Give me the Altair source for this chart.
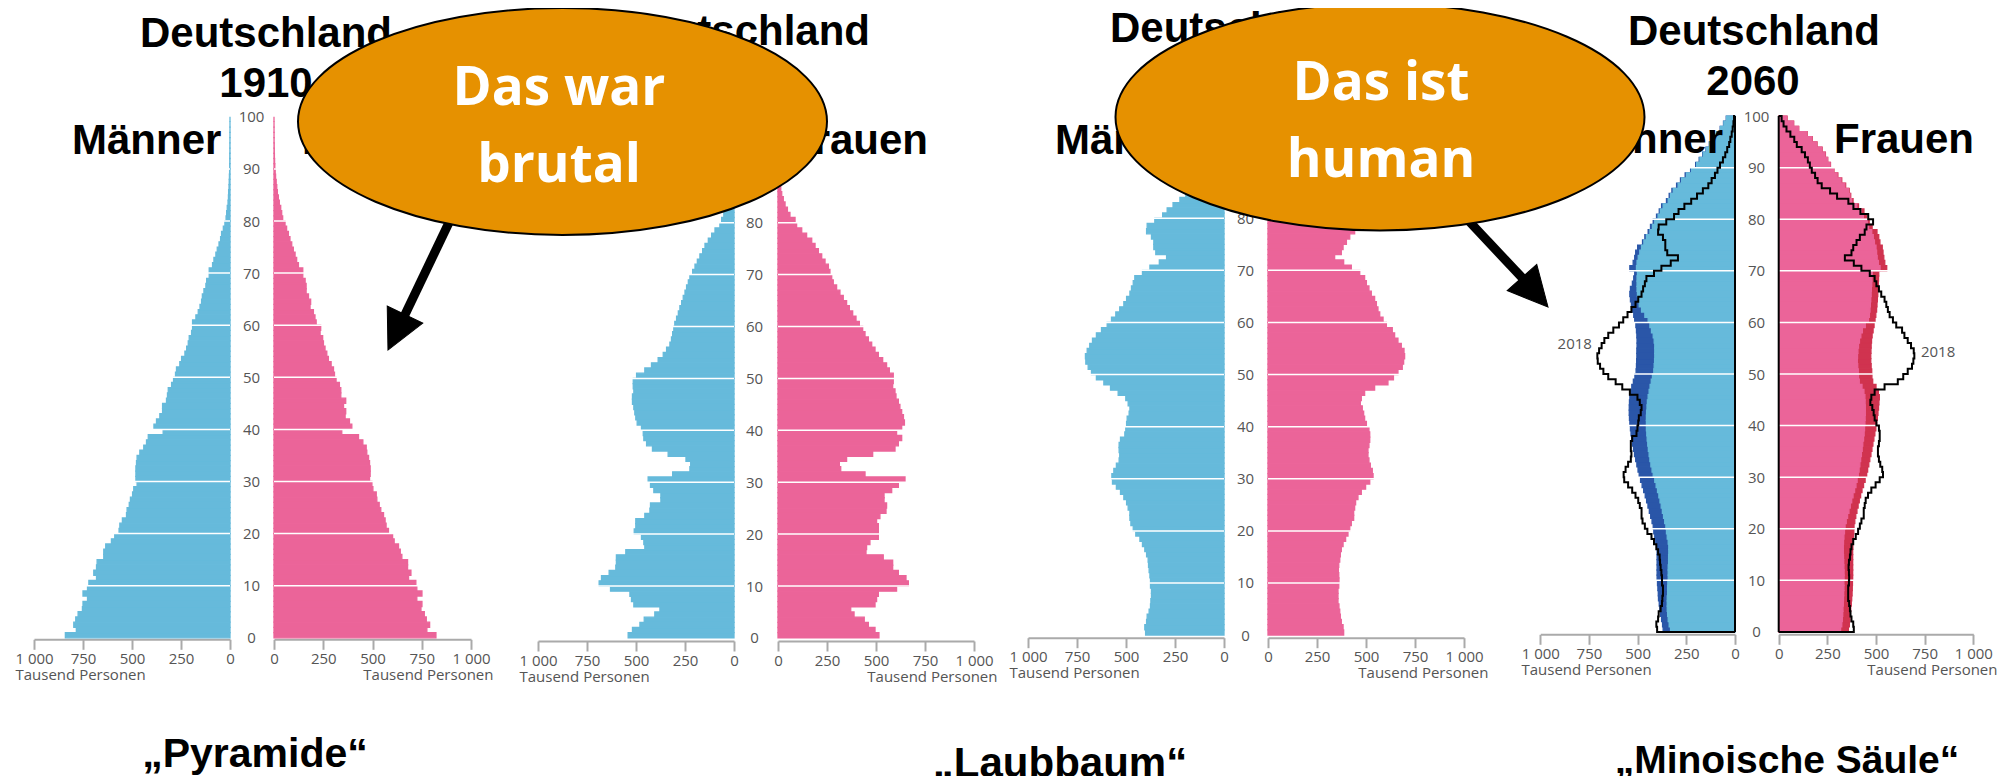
import altair as alt
import pandas as pd

# ---------------- data (thousand persons per single year of age) ----------------
AGES = list(range(100))
AGE_TICKS = list(range(0, 101, 10))
GRID_AGES = list(range(10, 100, 10))
X_TICKS = [0, 250, 500, 750, 1000]

M1910 = [840,784,797,787,775,753,750,727,750,727,
         720,681,695,681,678,644,644,634,605,588,
         566,562,549,528,525,514,508,497,491,474,
         480,480,480,477,474,460,440,426,417,341,
         388,375,358,344,344,324,319,315,298,288,
         278,273,256,247,230,221,213,208,196,191,
         191,174,162,153,145,141,133,123,119,106,
         106,89,82,72,65,56,48,43,34,26,
         20,17,14,10,8,7,5,4,3,2,
         1.5,1,1,0.5,0.5,0.3,0.2,0.1,0.1,0]
W1910 = [822,776,790,773,763,746,751,725,751,725,
         720,683,695,678,678,649,641,632,610,602,
         581,569,564,556,542,534,522,519,502,497,
         485,488,488,485,480,471,468,451,429,344,
         395,383,361,364,353,364,339,339,332,315,
         307,302,290,276,268,259,251,247,234,237,
         214,208,200,183,186,175,163,163,158,146,
         146,124,115,107,98,90,81,73,64,56,
         44,39,34,27,22,17,14,11,8,6,
         4,3,2,1.5,1,0.5,0.3,0.2,0.1,0]

M1950 = [540,518,480,458,404,378,511,523,531,630,
         688,676,637,603,600,600,552,455,460,472,
         509,501,501,455,429,426,373,373,409,426,
         438,313,225,221,245,336,416,446,460,463,
         472,494,501,506,511,518,518,511,514,514,
         497,455,421,387,361,344,327,319,313,307,
         302,293,284,276,267,259,250,242,233,225,
         211,199,187,174,160,148,131,114,97,72,
         63,52,44,36,29,23,18,14,10,7,
         5,4,3,2,1,1,0.5,0.3,0.2,0.1]
W1950 = [515,495,461,440,388,371,495,503,512,605,
         665,653,614,585,585,537,449,452,469,512,
         512,512,503,520,551,554,541,541,580,614,
         648,444,320,313,350,483,597,614,631,605,
         631,645,640,631,622,614,602,597,585,588,
         588,568,554,534,512,495,478,461,444,432,
         415,398,381,364,350,333,316,299,282,274,
         265,257,240,223,206,189,172,146,121,95,
         87,61,48,36,27,19,14,10,7,5,
         4,3,2,1,1,0.5,0.3,0.2,0.1,0.1]

M2018 = [400,404,395,392,382,375,373,370,370,375,
         375,378,382,385,387,395,404,416,429,450,
         463,475,480,480,489,497,511,528,549,569,
         572,562,549,535,532,535,535,528,506,501,
         497,494,484,480,489,501,540,579,613,651,
         676,693,705,707,698,685,671,651,625,596,
         574,552,532,511,497,480,472,463,455,416,
         378,330,293,348,358,358,370,395,392,353,
         313,290,260,225,195,165,137,120,103,90,
         77,62,50,40,30,24,17,12,8,5]
W2018 = [386,383,374,369,366,362,357,357,357,361,
         362,361,359,361,366,369,374,383,396,408,
         417,425,437,437,442,447,459,476,498,519,
         536,532,522,515,510,510,515,519,519,515,
         502,493,488,481,471,476,493,544,612,640,
         663,685,692,697,694,680,663,646,634,604,
         587,570,561,553,544,527,515,502,493,468,
         425,386,340,374,383,400,417,442,451,485,
         460,420,384,358,300,264,221,200,187,170,
         160,150,135,118,93,80,60,40,25,15]

M2060_LO = [331,338,343,346,348,348,348,346,346,345,
            343,343,343,341,341,340,340,343,348,352,
            355,361,367,373,379,385,391,398,405,412,
            420,426,432,437,441,445,448,451,453,455,
            455,455,454,452,450,446,441,436,430,424,
            417,415,413,412,412,412,415,420,429,437,
            446,463,480,492,497,501,503,503,503,501,
            506,503,497,489,480,468,455,437,424,412,
            395,383,369,343,331,317,292,274,249,223,
            197,180,163,146,129,108,91,74,57,43]
M2060_HI = [369,372,377,382,386,389,393,394,396,398,
            400,400,400,400,400,400,403,407,412,417,
            420,426,433,440,447,454,461,469,477,485,
            492,498,504,510,516,521,526,530,534,537,
            540,542,543,543,542,540,535,530,522,514,
            508,506,505,504,504,503,503,504,506,509,
            515,520,526,532,537,540,537,527,520,515,
            540,523,515,510,500,475,463,446,434,420,
            403,389,377,352,338,324,300,280,256,228,
            202,184,166,149,132,111,94,76,59,45]
W2060_LO = [318,324,327,329,330,332,333,334,335,335,
            336,336,335,334,333,332,332,333,335,338,
            341,347,354,361,368,375,382,390,397,403,
            409,413,417,421,425,429,432,436,439,441,
            443,444,445,445,444,443,438,428,414,410,
            409,406,404,405,407,410,415,422,430,445,
            461,466,469,471,473,475,476,478,479,481,
            521,512,506,503,500,492,486,478,462,455,
            435,425,401,375,366,358,340,320,300,281,
            264,250,238,221,195,170,144,101,75,41]
W2060_HI = [358,363,366,368,370,373,375,377,378,379,
            380,380,380,380,380,380,381,382,384,386,
            387,391,396,402,408,414,421,428,436,444,
            452,457,463,468,474,479,484,489,494,499,
            503,507,510,513,515,517,512,500,483,479,
            478,475,473,473,474,475,477,480,485,490,
            495,499,503,505,507,509,510,512,513,514,
            555,545,540,536,532,520,514,505,480,465,
            452,438,410,382,370,362,344,324,304,284,
            266,252,240,223,197,172,146,103,77,43]

# ---------------- styling / layout ----------------
W, H = 1989, 768
BLUE = "#66BADB"
PINK = "#EB6499"
DARK_BLUE = "#2A56A8"
DARK_RED = "#D0334F"
ORANGE = "#E69100"
GREY = "#555555"
AXIS_GREY = "#AAAAAA"
LABEL_FONT = "Open Sans"
TITLE_FONT = "Liberation Sans"

PANELS = [
    dict(men=(222, 26), women=(266, 463), y=(629.8, 108.8), axis=631.3, lab=243, mt=7, wt=485),
    dict(men=(726, 530), women=(770, 966), y=(629.9, 110.9), axis=633.0, lab=746, mt=511, wt=989),
    dict(men=(1216, 1020), women=(1260, 1456), y=(627.1, 106.0), axis=629.7, lab=1237, mt=1001, wt=1480),
    dict(men=(1727, 1532.3), women=(1770.7, 1965.3), y=(623.9, 108.1), axis=626.3, lab=1748, mt=1513, wt=1989),
]


def sc(rng, top=1000):
    return alt.Scale(domain=[0, top], range=list(rng), nice=False, zero=False)


def x_axis(offset, title_x, align):
    return alt.Axis(orient="bottom", offset=offset, values=X_TICKS, format="d",
                    labelExpr="datum.value == 1000 ? '1 000' : datum.label",
                    grid=False, domainColor=AXIS_GREY, domainWidth=2,
                    tickColor=AXIS_GREY, tickWidth=2, tickSize=10,
                    labelFont=LABEL_FONT, labelFontSize=15, labelColor=GREY, labelPadding=2,
                    labelFlush=False, labelOverlap=False,
                    title="Tausend Personen", titleFont=LABEL_FONT, titleFontSize=15,
                    titleFontWeight="normal", titleColor=GREY, titleX=title_x, titleY=35,
                    titleAlign=align, titleBaseline="middle", titleAngle=0)


def y_axis(label_x):
    return alt.Axis(orient="left", offset=-label_x, values=AGE_TICKS, ticks=False, tickSize=0,
                    domain=False, grid=False, labelAlign="center", labelBaseline="middle",
                    labelPadding=0, labelFont=LABEL_FONT, labelFontSize=15, labelColor=GREY,
                    labelFlush=False, labelOverlap=False, title=None)


def bar_layer(values, xs, ys, color, xaxis=None, yaxis=None):
    df = pd.DataFrame({"age": AGES, "top": [a + 1 for a in AGES], "v": values, "zero": 0})
    return alt.Chart(df).mark_rect(color=color, stroke=color, strokeWidth=1.3).encode(
        x=alt.X("v:Q", scale=xs, axis=xaxis),
        x2="zero:Q",
        y=alt.Y("age:Q", scale=ys, axis=yaxis),
        y2="top:Q",
    )


def grid_layer(xs, ys):
    df = pd.DataFrame({"age": GRID_AGES, "x0": 0, "x1": 1000})
    return alt.Chart(df).mark_rule(color="white", strokeWidth=1.5).encode(
        x=alt.X("x0:Q", scale=xs, axis=None), x2="x1:Q",
        y=alt.Y("age:Q", scale=ys, axis=None))


def outline_layer(values, xs, ys):
    rows = [{"i": 0, "age": 0, "v": 0}]
    for a, v in zip(AGES, values):
        rows.append({"i": a + 1, "age": a, "v": v})
    rows.append({"i": 101, "age": 100, "v": 0})
    return alt.Chart(pd.DataFrame(rows)).mark_line(
        interpolate="step-before", color="black", strokeWidth=2).encode(
        x=alt.X("v:Q", scale=xs, axis=None),
        y=alt.Y("age:Q", scale=ys, axis=None),
        order="i:Q")


def zero_rule(xs, ys):
    df = pd.DataFrame({"x": [0], "y0": [0], "y1": [100]})
    return alt.Chart(df).mark_rule(color="black", strokeWidth=2).encode(
        x=alt.X("x:Q", scale=xs, axis=None),
        y=alt.Y("y0:Q", scale=ys, axis=None), y2="y1:Q")


def scaled_text(txt, v, age, xs, ys, align):
    df = pd.DataFrame({"v": [v], "age": [age], "t": [txt]})
    return alt.Chart(df).mark_text(align=align, baseline="middle", font=LABEL_FONT,
                                   fontSize=15, color=GREY).encode(
        x=alt.X("v:Q", scale=xs, axis=None), y=alt.Y("age:Q", scale=ys, axis=None), text="t:N")


def text_mark(txt, x, y, size, align="center", font=TITLE_FONT, weight="bold", color="black"):
    return alt.Chart(pd.DataFrame({"t": [txt]})).mark_text(
        align=align, baseline="alphabetic", font=font, fontSize=size,
        fontWeight=weight, color=color).encode(x=alt.value(x), y=alt.value(y), text="t:N")


layers = []
data_sets = [(M1910, W1910), (M1950, W1950), (M2018, W2018)]
for p, (men, women) in zip(PANELS[:3], data_sets):
    mx, wx, ys = sc(p["men"]), sc(p["women"]), sc(p["y"], 100)
    layers.append(bar_layer(men, mx, ys, BLUE, x_axis(p["axis"] - H, p["mt"], "left"), y_axis(p["lab"])))
    layers.append(bar_layer(women, wx, ys, PINK, x_axis(p["axis"] - H, p["wt"], "right")))
    layers.append(grid_layer(mx, ys))
    layers.append(grid_layer(wx, ys))

p = PANELS[3]
mx, wx, ys = sc(p["men"]), sc(p["women"]), sc(p["y"], 100)
layers.append(bar_layer(M2060_HI, mx, ys, DARK_BLUE, x_axis(p["axis"] - H, p["mt"], "left"), y_axis(p["lab"])))
layers.append(bar_layer(M2060_LO, mx, ys, BLUE))
layers.append(bar_layer(W2060_HI, wx, ys, DARK_RED, x_axis(p["axis"] - H, p["wt"], "right")))
layers.append(bar_layer(W2060_LO, wx, ys, PINK))
layers.append(grid_layer(mx, ys))
layers.append(grid_layer(wx, ys))
layers.append(outline_layer(M2018, mx, ys))
layers.append(outline_layer(W2018, wx, ys))
layers.append(zero_rule(mx, ys))
layers.append(zero_rule(wx, ys))
layers.append(scaled_text("2018", 735, 55.8, mx, ys, "right"))
layers.append(scaled_text("2018", 731, 54.3, wx, ys, "left"))

# titles
TITLES = [
    ("Deutschland", 258, 39, "center"), ("1910", 258, 89, "center"),
    ("Männer", 64, 146, "left"), ("Frauen", 294, 146, "left"),
    ("Deutschland", 736, 37, "center"), ("1950", 736, 89, "center"),
    ("Männer", 718, 146, "right"), ("Frauen", 780, 146, "left"),
    ("Deutschland", 1228, 34, "center"), ("2018", 1228, 86, "center"),
    ("Männer", 1047, 146, "left"), ("Frauen", 1288, 146, "left"),
    ("Deutschland", 1746, 37, "center"), ("2060", 1745, 87, "center"),
    ("Männer", 1715, 145, "right"), ("Frauen", 1826, 145, "left"),
]
for t, x, y, a in TITLES:
    layers.append(text_mark(t, x, y, 42, a))

# arrows (shafts below bubbles)
for (x1, y1, x2, y2) in [(447, 202, 393, 315), (1458, 210, 1519, 275)]:
    layers.append(alt.Chart(pd.DataFrame({"k": [0]})).mark_rule(
        color="black", strokeWidth=9, strokeCap="butt").encode(
        x=alt.value(x1), y=alt.value(y1), x2=alt.value(x2), y2=alt.value(y2)))

ELLIPSE = ("M -1 0 C -1 -0.2369 -0.5523 -0.429 0 -0.429 C 0.5523 -0.429 1 -0.2369 1 0 "
           "C 1 0.2369 0.5523 0.429 0 0.429 C -0.5523 0.429 -1 0.2369 -1 0 Z")
for cx, cy in [(554.5, 113.5), (1372, 109)]:
    layers.append(alt.Chart(pd.DataFrame({"k": [0]})).mark_point(
        shape=ELLIPSE, size=529 ** 2, filled=True, color=ORANGE, fill=ORANGE,
        stroke="black", strokeWidth=2, opacity=1, fillOpacity=1).encode(
        x=alt.value(cx), y=alt.value(cy)))

HEAD = "M 0 -1 L 1 1 L -1 1 Z"
for cx, cy, ang in [(388.5, 324.3, 205.6), (1527, 284.3, 138.6)]:
    layers.append(alt.Chart(pd.DataFrame({"k": [0]})).mark_point(
        shape=HEAD, size=39.4 ** 2, filled=True, color="black", fill="black",
        stroke="black", strokeWidth=1, opacity=1, angle=ang).encode(
        x=alt.value(cx), y=alt.value(cy)))

# bubble texts
for t, x, y in [("Das war", 551, 97), ("brutal", 551, 174), ("Das ist", 1373, 92), ("human", 1373, 169)]:
    layers.append(text_mark(t, x, y, 53, "center", font="Open Sans", color="white"))

# bottom labels
for t, x, y, s in [("\u201ePyramide\u201c", 247, 759, 41), ("\u201eLaubbaum\u201c", 1052, 769, 42),
                   ("\u201eMinoische Säule\u201c", 1779, 765, 39)]:
    layers.append(text_mark(t, x, y, s, "center"))

chart = alt.layer(*layers).resolve_scale(
    x="independent", y="independent").resolve_axis(
    x="independent", y="independent").properties(
    width=W, height=H, padding=0, autosize=alt.AutoSizeParams(type="none")
).configure_view(stroke=None)

chart.save("out.html", embed_options={"renderer": "svg", "actions": False})
